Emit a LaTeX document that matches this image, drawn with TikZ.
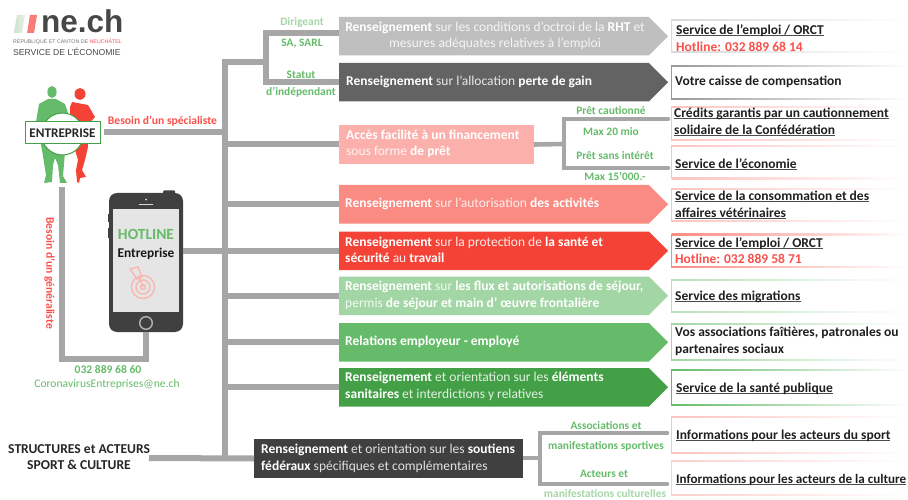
\documentclass[tikz,border=0pt]{standalone}
\usepackage{fontspec}
\setmainfont{Carlito}
\newfontfamily\logofont{Liberation Sans}
\usetikzlibrary{shapes.symbols}
\definecolor{linegray}{HTML}{A6A6A6}
\definecolor{gtxt}{HTML}{66BB6A}
\definecolor{gpale}{HTML}{A5D6A7}
\definecolor{rtxt}{HTML}{F9504A}
\definecolor{ca}{HTML}{BFBFBF}
\definecolor{cb}{HTML}{636363}
\definecolor{cf}{HTML}{FBB0AC}
\definecolor{cc}{HTML}{F98B82}
\definecolor{cd}{HTML}{F44336}
\definecolor{ce}{HTML}{A3D6A5}
\definecolor{cg}{HTML}{66BB6A}
\definecolor{ch}{HTML}{43A047}
\definecolor{ci}{HTML}{404040}
\newcommand{\bw}[1]{\textbf{\textcolor{white}{#1}}}
\newsavebox{\ulbox}
\newcommand{\ul}[1]{\sbox{\ulbox}{#1}\rlap{\textcolor{black!70}{\rule[-1.7pt]{\wd\ulbox}{1.1pt}}}\usebox{\ulbox}}
\newcommand{\rframe}[5]{% x y1 y2 colour width
  \shade[left color=#4,right color=white] (#1,#2-#5/2) rectangle (908,#2+#5/2);
  \shade[left color=#4,right color=white] (#1,#3-#5/2) rectangle (908,#3+#5/2);
  \fill[#4] (#1-#5/2,#2-#5/2) rectangle (#1+#5/2,#3+#5/2);}
\tikzset{
  conn/.style={draw=linegray,line width=6pt},
  subconn/.style={draw=linegray,line width=4.6pt},
  arrowbox/.style={signal,signal to=east,signal from=nowhere,signal pointer angle=90,
    minimum width=329pt,minimum height=38.5pt,inner sep=0pt,outer sep=0pt,anchor=north west,draw=none},
  plainbox/.style={inner sep=0pt,outer sep=0pt,anchor=north west},
  atext/.style={anchor=west,inner sep=0pt,align=left,font=\fontsize{13.5}{16.5}\selectfont},
  rtext/.style={anchor=west,inner sep=0pt,align=left,text=black!88,font=\fontsize{13.5}{16.5}\selectfont\bfseries},
  glabel/.style={inner sep=0pt,text=gtxt,font=\fontsize{11.4}{13}\selectfont\bfseries},
  hlabel/.style={inner sep=0pt,font=\fontsize{13.6}{16.5}\selectfont\bfseries},
}
\begin{document}
\begin{tikzpicture}[x=1pt,y=-1pt]
\useasboundingbox (0,0) rectangle (908,500);
% ---- logo
\shade[left color=gpale!60,right color=white!85!gray] (14,33) -- (17,15) -- (25,15) -- (22,33) -- cycle;
\fill[rtxt!75] (27,33) -- (30,15) -- (37,15) -- (34,33) -- cycle;
\node[inner sep=0pt,anchor=base west,text=black!72] (logo) at (41,33) {\logofont\fontsize{31.5}{32}\selectfont\bfseries ne.ch};
\node[inner sep=0pt,anchor=base west,text=black!55] (logoa) at (13,43.5) {\logofont\fontsize{5.3}{6}\selectfont R\'EPUBLIQUE ET CANTON DE \textcolor{rtxt}{NEUCH\^ATEL}};
\node[inner sep=0pt,anchor=base west,text=black!72] (logob) at (13,56) {\logofont\fontsize{8.6}{10}\selectfont SERVICE DE L’\'ECONOMIE};
% ---- arrows and boxes
\node[arrowbox,fill=ca] (a1) at (339,17) {};
\node[arrowbox,fill=cb] (a2) at (339,63) {};
\node[plainbox,fill=cf,minimum width=195pt,minimum height=39pt] (fin) at (339,125) {};
\node[arrowbox,fill=cc] (a3) at (339,185) {};
\node[arrowbox,fill=cd] (a4) at (339,231.5) {};
\node[arrowbox,fill=ce] (a5) at (339,276.5) {};
\node[arrowbox,fill=cg] (a6) at (339,323) {};
\node[arrowbox,fill=ch] (a7) at (339,368) {};
\node[plainbox,fill=ci,minimum width=269pt,minimum height=39pt] (dark) at (254,439) {};
% ---- phone and badge nodes
\node[inner sep=0pt,outer sep=0pt,minimum width=74pt,minimum height=139pt,rounded corners=8pt,fill=ci,anchor=north west] (phone) at (109,193) {};
\node[inner sep=0pt,outer sep=0pt,minimum width=75pt,minimum height=22pt,anchor=center] (badge) at (62.5,133) {};
\coordinate (trunktop) at (225,62);
\coordinate (trunk) at (225,458);
\coordinate (brk) at (266,62);
\coordinate (sfin) at (564,144);
\coordinate (sdark) at (540,458);
\coordinate (finA) at (668,119);
\coordinate (finB) at (668,168);
\coordinate (darkA) at (667,433);
\coordinate (darkB) at (667,484);
\coordinate (gen) at (62,359);
\coordinate (entS) at (62,187);
\coordinate (entE) at (104,132);
% ---- connectors
\draw[conn,line cap=butt] ([yshift=3pt]trunktop) -- (trunk);
\draw[conn] (brk) -- (trunktop);
\draw[conn] ([yshift=3pt]a1.west) -| (brk) |- (a2.west);
\draw[conn] (entE) -- (entE -| trunk);
\draw[conn] (trunk |- fin.west) -- (fin.west);
\draw[conn] (trunk |- a3.west) -- (a3.west);
\draw[conn] (phone.east |- a4.west) -- (a4.west);
\draw[conn] (trunk |- a5.west) -- (a5.west);
\draw[conn] (trunk |- a6.west) -- (a6.west);
\draw[conn] (trunk |- a7.west) -- (a7.west);
\draw[conn] (149,458) -- (dark.west);
\draw[conn] (entS) -- (gen) -| (phone.south);
\draw[subconn] (fin.east) -- (sfin);
\draw[subconn,line cap=round] (finA) -| (sfin) |- (finB);
\draw[subconn] (dark.east |- sdark) -- (sdark);
\draw[subconn,line cap=round] (darkA) -| (sdark) |- (darkB);
% ---- people
\fill[cd] (80,94) ellipse (5.5 and 6);
\fill[cd] (72,102) -- (88,105) -- (95,117) -- (87,126) -- (88,147) -- (85,160) -- (82,170) -- (86,177) -- (80,178) -- (79,183) -- (77,182) -- (76,170) -- (78,160) -- (75,150) -- (70,125) -- (70,107) -- cycle;
\fill[cg] (52,92) ellipse (4.6 and 6);
\fill[cg] (48,99) -- (56,99) -- (65,104) -- (68,113) -- (68,125) -- (65,152) -- (63,176) -- (67,183) -- (60,183) -- (58,165) -- (55,158) -- (53,165) -- (52,182) -- (44,183) -- (46,175) -- (42,150) -- (36,122) -- (39,104) -- cycle;
\draw[ch,line width=1pt,fill=white] (62.5,134) circle (21);
\draw[ch,line width=1pt,fill=white] (25,122) rectangle (100,144);
\fill[white] (43,123) rectangle (82,143);
\node[inner sep=0pt,text=black!85,font=\fontsize{13.2}{14}\selectfont\bfseries] (enttxt) at (badge.center) {ENTREPRISE};
% ---- phone details
\fill[ci,rounded corners=1pt] (163,190.5) rectangle (175,196);
\fill[ci] (107.5,214) rectangle (110,222);
\fill[ci] (107.5,228) rectangle (110,238);
\fill[black!10] (113,209) rectangle (179,312);
\fill[white!85!black] (146,199.5) circle (1);
\draw[white!85!black,line width=1.3pt,line cap=round] (139.5,204.5) -- (152.5,204.5);
\draw[white!70!black,line width=1.4pt] (146,323) circle (6.3);
\node[inner sep=0pt,text=gtxt,font=\fontsize{15.5}{17}\selectfont\bfseries] (hot) at (146,234.5) {HOTLINE};
\node[inner sep=0pt,text=black!90,font=\fontsize{13.4}{15}\selectfont\bfseries] (hot2) at (146,254) {Entreprise};
\begin{scope}[draw=cc!65,line width=1.3pt,fill=none]
  \draw (143,287) circle (11.5);
  \draw (143,287) circle (7);
  \draw (143,287) circle (2.5);
  \draw (130,269) -- (138,267) -- (142,277) -- (137,279) -- cycle;
  \draw (139,277) -- (143,287);
\end{scope}
% ---- right frames
\rframe{671.5}{20}{52}{black!15}{1.5}
\rframe{671.5}{66}{99}{black!40}{1.6}
\rframe{671.5}{107}{140}{cf!75}{1.4}
\rframe{671.5}{146}{178.5}{cf!75}{1.4}
\rframe{671.5}{189}{221}{cf!75}{1.4}
\rframe{671.5}{234.5}{267}{cc}{1.5}
\rframe{671.5}{280}{312}{ce!75}{1.4}
\rframe{671.5}{324}{360}{ce}{1.5}
\rframe{671.5}{370}{405}{cg}{1.6}
\rframe{671.5}{417}{453}{cf!75}{1.4}
\rframe{671.5}{461}{495}{cf!60}{1.4}
% ---- arrow texts
\node[atext,anchor=center,align=center,text=white!85!ca] (t1) at (495,36) {\bw{Renseignement} sur les conditions d’octroi de la \bw{RHT} et\\mesures ad\'equates relatives \`a l’emploi};
\node[atext,text=white!85!cb] (t2) at (346,82) {\bw{Renseignement} sur l’allocation \bw{perte de gain}};
\node[atext,text=white!85!cf] (t3) at (346,144) {\bw{Acc\`es facilit\'e \`a un financement}\\sous forme \bw{de pr\^et}};
\node[atext,text=white!85!cc] (t4) at (345,204) {\bw{Renseignement} sur l’autorisation \bw{des activit\'es}};
\node[atext,text=white!88!cd] (t5) at (345,250) {\bw{Renseignement} sur la protection de \bw{la sant\'e et}\\\bw{s\'ecurit\'e} au \bw{travail}};
\node[atext,text=white!85!ce] (t6) at (345,295.5) {\bw{Renseignement} sur \bw{les flux et autorisations de s\'ejour,}\\permis \bw{de s\'ejour et main d’ \oe uvre frontali\`ere}};
\node[atext,text=white!90!cg] (t7) at (345,342) {\bw{Relations employeur - employ\'e}};
\node[atext,text=white!85!ch] (t8) at (345,386.5) {\bw{Renseignement} et orientation sur les \bw{\'el\'ements}\\\bw{sanitaires} et interdictions y relatives};
\node[atext,text=white!85!ci] (t9) at (261,458.5) {\bw{Renseignement} et orientation sur les \bw{soutiens}\\\bw{f\'ed\'eraux} sp\'ecifiques et compl\'ementaires};
% ---- right texts
\node[rtext] (r1) at (676,38) {\ul{Service de l’emploi / ORCT}\\\textcolor{rtxt}{Hotline: 032 889 68 14}};
\node[rtext] (r2) at (675,81.5) {Votre caisse de compensation};
\node[rtext] (r3) at (674,122) {\ul{Cr\'edits garantis par un cautionnement}\\\ul{solidaire de la Conf\'ed\'eration}};
\node[rtext] (r4) at (675,164.5) {\ul{Service de l’\'economie}};
\node[rtext] (r5) at (675,205) {\ul{Service de la consommation et des}\\\ul{affaires v\'et\'erinaires}};
\node[rtext] (r6) at (675,250.5) {\ul{Service de l’emploi / ORCT}\\\textcolor{rtxt}{Hotline: 032 889 58 71}};
\node[rtext] (r7) at (675,297) {\ul{Service des migrations}};
\node[rtext] (r8) at (675,341.5) {Vos associations fa\^iti\`eres, patronales ou\\partenaires sociaux};
\node[rtext] (r9) at (676,389) {\ul{Service de la sant\'e publique}};
\node[rtext] (r10) at (676,436) {\ul{Informations pour les acteurs du sport}};
\node[rtext,font=\fontsize{13.1}{16.5}\selectfont\bfseries] (r11) at (676,479.5) {\ul{Informations pour les acteurs de la culture}};
% ---- small labels
\node[glabel,text=gpale] (l1) at (302,22.5) {Dirigeant};
\node[glabel] (l2) at (302,43.5) {SA, SARL};
\node[glabel] (l3) at (301,74.5) {Statut};
\node[glabel] (l4) at (301,92.5) {d’ind\'ependant};
\node[glabel] (l5) at (611,110.5) {Pr\^et cautionn\'e};
\node[glabel] (l6) at (611,131.5) {Max 20 mio};
\node[glabel] (l7) at (615,156) {Pr\^et sans int\'er\^et};
\node[glabel] (l8) at (615,176.5) {Max 15’000.-};
\node[glabel] (l9) at (606,425.5) {Associations et};
\node[glabel] (l10) at (606,446.5) {manifestations sportives};
\node[glabel] (l11) at (604,473.5) {Acteurs et};
\node[glabel,text=gpale] (l12) at (605,494) {manifestations culturelles};
\node[inner sep=0pt,text=rtxt,font=\fontsize{11.6}{13}\selectfont\bfseries] (besa) at (162.5,121.5) {Besoin d’un sp\'ecialiste};
\node[inner sep=0pt,text=rtxt,rotate=-90,font=\fontsize{11.6}{13}\selectfont\bfseries] (besb) at (49.5,273) {Besoin d’un g\'en\'eraliste};
\node[inner sep=0pt,text=gtxt,font=\fontsize{11.6}{13}\selectfont\bfseries] (tel) at (108,370) {032 889 68 60};
\node[inner sep=0pt,text=gtxt,font=\fontsize{11.6}{13}\selectfont] (mail) at (107,384.5) {CoronavirusEntreprises@ne.ch};
\node[hlabel,anchor=west,text=black!85] (s1) at (8,449) {STRUCTURES et ACTEURS};
\node[hlabel,text=black!85] (s2) at (79,465) {SPORT \& CULTURE};
\end{tikzpicture}
\end{document}
